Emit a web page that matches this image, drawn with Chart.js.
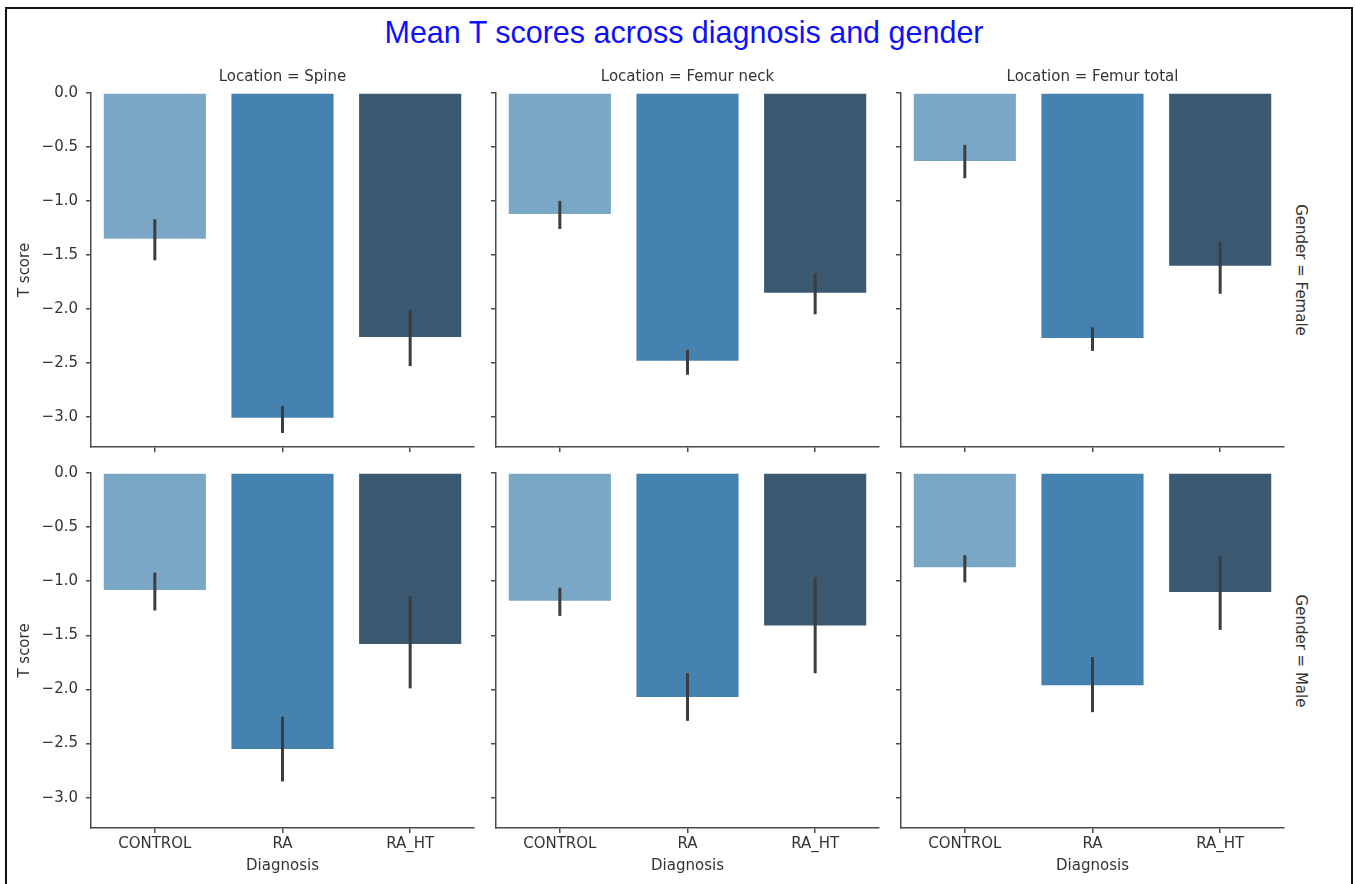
<!DOCTYPE html>
<html>
<head>
<meta charset="utf-8">
<script src="https://cdn.jsdelivr.net/npm/chart.js@4.4.0/dist/chart.umd.min.js"></script>
<style>
  html, body { margin: 0; padding: 0; background: #fff; }
  body { width: 1355px; height: 884px; overflow: hidden; position: relative; font-family: 'DejaVu Sans', sans-serif; }
  #frame { position: absolute; left: 5px; top: 7px; width: 1344px; height: 900px; border: 2px solid #111; }
  canvas { position: absolute; }
  #figTitle { position: absolute; left: 0; top: 17px; width: 1368px; text-align: center;
              font-family: 'Liberation Sans', Arial, sans-serif; font-size: 30.5px; line-height: 30.5px; color: #0f0fff; }
  .rowLabel { position: absolute; writing-mode: vertical-rl; font-size: 15px; line-height: 15px; color: #333;
              transform: translate(-50%, -50%); white-space: nowrap; }
</style>
</head>
<body>
<div id="frame"></div>
<div id="figTitle">Mean T scores across diagnosis and gender</div>
<div class="rowLabel" id="rowLabel0" style="left:1300px; top:270px;"></div>
<div class="rowLabel" id="rowLabel1" style="left:1300px; top:651px;"></div>
<canvas id="c00"></canvas><canvas id="c01"></canvas><canvas id="c02"></canvas>
<canvas id="c10"></canvas><canvas id="c11"></canvas><canvas id="c12"></canvas>
<script>
// ---------- data ----------
const diagnoses = ['CONTROL', 'RA', 'RA_HT'];
const locations = ['Spine', 'Femur neck', 'Femur total'];
const genders = ['Female', 'Male'];
const yTicks = [0, -0.5, -1.0, -1.5, -2.0, -2.5, -3.0];

const femaleSpine = [-1.35, -3.01, -2.26];
const femaleSpineCI = [[-1.17, -1.55], [-2.90, -3.15], [-2.01, -2.53]];
const femaleFemurNeck = [-1.12, -2.48, -1.85];
const femaleFemurNeckCI = [[-1.00, -1.26], [-2.38, -2.61], [-1.67, -2.05]];
const femaleFemurTotal = [-0.63, -2.27, -1.60];
const femaleFemurTotalCI = [[-0.48, -0.79], [-2.17, -2.39], [-1.38, -1.86]];

const maleSpine = [-1.08, -2.55, -1.58];
const maleSpineCI = [[-0.92, -1.27], [-2.25, -2.85], [-1.14, -1.99]];
const maleFemurNeck = [-1.18, -2.07, -1.41];
const maleFemurNeckCI = [[-1.06, -1.32], [-1.85, -2.29], [-0.96, -1.85]];
const maleFemurTotal = [-0.87, -1.96, -1.10];
const maleFemurTotalCI = [[-0.76, -1.01], [-1.70, -2.21], [-0.77, -1.45]];

const barColors = ['#7ba7c7', '#4682b0', '#3b5970'];

// ---------- setup ----------
Chart.defaults.font.family = "'DejaVu Sans', sans-serif";
Chart.defaults.font.size = 15;
Chart.defaults.color = '#333';

const panels = [
  [femaleSpine, femaleSpineCI], [femaleFemurNeck, femaleFemurNeckCI], [femaleFemurTotal, femaleFemurTotalCI],
  [maleSpine, maleSpineCI], [maleFemurNeck, maleFemurNeckCI], [maleFemurTotal, maleFemurTotalCI]
];

const errorBarPlugin = {
  id: 'errorBars',
  afterDatasetsDraw(chart) {
    const ds = chart.data.datasets[0];
    const meta = chart.getDatasetMeta(0);
    const ys = chart.scales.y;
    const ctx = chart.ctx;
    ctx.save();
    ctx.strokeStyle = '#3d3d3d';
    ctx.lineWidth = 3;
    ds.errorBars.forEach((e, i) => {
      const x = meta.data[i].x;
      ctx.beginPath();
      ctx.moveTo(x, ys.getPixelForValue(e[0]));
      ctx.lineTo(x, ys.getPixelForValue(e[1]));
      ctx.stroke();
    });
    ctx.restore();
  }
};

const areaLeft = [91, 496, 901];
const areaTop = [93, 473];
const areaH = [354, 355];
const areaW = 383;
const axisColor = '#4a4a4a';

function fmt(v) {
  if (v === 0) return '0.0';
  return (v < 0 ? '\u2212' : '') + Math.abs(v).toFixed(1);
}

genders.forEach((g, r) => {
  document.getElementById('rowLabel' + r).textContent = 'Gender = ' + g;
  locations.forEach((loc, c) => {
    const [vals, ci] = panels[r * 3 + c];
    const yW = c === 0 ? 91 : 80;
    const topPad = r === 0 ? 25 : 20;
    const xH = r === 0 ? 20 : 50;
    const rightPad = 10;
    const canvas = document.getElementById('c' + r + c);
    const w = yW + areaW + rightPad;
    const h = topPad + areaH[r] + xH;
    canvas.width = w; canvas.height = h;
    canvas.style.width = w + 'px'; canvas.style.height = h + 'px';
    canvas.style.left = (areaLeft[c] - yW) + 'px';
    canvas.style.top = (areaTop[r] - topPad) + 'px';

    new Chart(canvas, {
      type: 'bar',
      data: {
        labels: diagnoses,
        datasets: [{
          data: vals,
          errorBars: ci,
          backgroundColor: barColors,
          borderWidth: 0,
          categoryPercentage: 0.8,
          barPercentage: 1.0
        }]
      },
      options: {
        responsive: false,
        animation: false,
        devicePixelRatio: 1,
        layout: { padding: { top: r === 0 ? 0 : topPad, right: rightPad, left: 0, bottom: 0 } },
        plugins: {
          legend: { display: false },
          tooltip: { enabled: false },
          title: {
            display: r === 0,
            text: 'Location = ' + loc,
            fullSize: false,
            color: '#333',
            font: { size: 15, weight: 'normal' },
            padding: { top: 0, bottom: 7 }
          }
        },
        scales: {
          x: {
            type: 'category',
            offset: true,
            grid: { offset: false, drawOnChartArea: false, drawTicks: true, tickLength: 5, color: axisColor, lineWidth: 1.5 },
            border: { display: true, color: axisColor, width: 1.5 },
            ticks: {
              padding: 2, color: '#333', font: { size: 15 }, maxRotation: 0, autoSkip: false,
              callback: function (v, i) { return r === 1 ? diagnoses[i] : ''; }
            },
            title: { display: r === 1, text: 'Diagnosis', color: '#333', font: { size: 15 }, padding: { top: 0, bottom: 3 } },
            afterFit: s => { s.height = xH; }
          },
          y: {
            type: 'linear',
            min: -3.28,
            max: 0,
            afterBuildTicks: s => { s.ticks = yTicks.map(v => ({ value: v })); },
            grid: { drawOnChartArea: false, drawTicks: true, tickLength: 5, color: axisColor, lineWidth: 1.5 },
            border: { display: true, color: axisColor, width: 1.5 },
            ticks: {
              padding: 8, color: '#333', font: { size: 15 },
              callback: v => (c === 0 ? fmt(v) : '')
            },
            title: { display: c === 0, text: 'T score', color: '#333', font: { size: 15 }, padding: { top: 16, bottom: 0 } },
            afterFit: s => { s.width = yW; }
          }
        }
      },
      plugins: [errorBarPlugin]
    });
  });
});
</script>
</body>
</html>
